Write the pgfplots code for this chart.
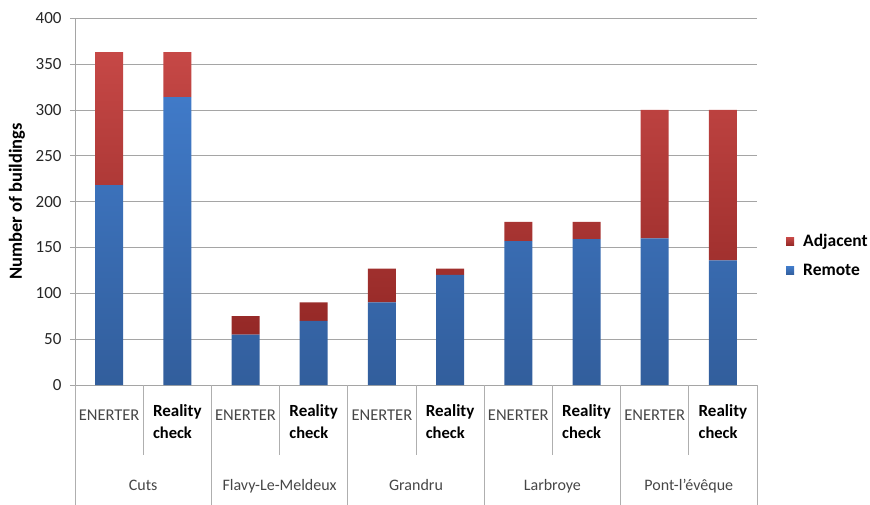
\documentclass[border=0pt]{standalone}
\usepackage{fontspec}
\setmainfont{Carlito}
\usepackage{pgfplots}
\usepackage{pgfplotstable}
\pgfplotsset{compat=1.18}

\definecolor{remTop}{RGB}{64,122,200}
\definecolor{remBot}{RGB}{50,94,156}
\definecolor{adjTop}{RGB}{198,72,70}
\definecolor{adjBot}{RGB}{148,40,38}
\definecolor{gridgray}{RGB}{165,165,165}
\definecolor{sepgray}{RGB}{175,175,175}
\definecolor{labgray}{RGB}{70,70,70}

% Number of buildings per village: ENERTER estimate vs. field reality check
\pgfplotstableread{
x remote adjacent
0 218 145
1 314 49
2 55  20
3 70  20
4 90  37
5 120 7
6 157 21
7 159 19
8 160 140
9 136 164
}\buildings

\begin{document}
\begin{tikzpicture}
\path[use as bounding box] (0,0) rectangle (870bp,-505bp);
\begin{axis}[
  at={(75bp,-385bp)}, anchor=south west,
  scale only axis, width=682bp, height=366.7bp,
  clip=false,
  ymin=0, ymax=400, ytick={0,50,...,400},
  xmin=-0.5, xmax=9.5,
  xtick={0,...,9},
  xticklabels={
    {\color{labgray}\rule{0pt}{15.5bp}ENERTER}, {\bfseries\fontsize{17bp}{22bp}\selectfont Reality\\\bfseries check},
    {\color{labgray}\rule{0pt}{15.5bp}ENERTER}, {\bfseries\fontsize{17bp}{22bp}\selectfont Reality\\\bfseries check},
    {\color{labgray}\rule{0pt}{15.5bp}ENERTER}, {\bfseries\fontsize{17bp}{22bp}\selectfont Reality\\\bfseries check},
    {\color{labgray}\rule{0pt}{15.5bp}ENERTER}, {\bfseries\fontsize{17bp}{22bp}\selectfont Reality\\\bfseries check},
    {\color{labgray}\rule{0pt}{15.5bp}ENERTER}, {\bfseries\fontsize{17bp}{22bp}\selectfont Reality\\\bfseries check}},
  xticklabel style={anchor=north, align=left, yshift=-11bp,
    font=\fontsize{16.5bp}{22bp}\selectfont},
  yticklabel style={font=\fontsize{17bp}{20bp}\selectfont, text=black!85,
    xshift=-5bp},
  /pgf/number format/assume math mode=true,
  axis lines*=left,
  axis line style={gridgray, line width=0.8pt},
  x axis line style={-}, y axis line style={-},
  tick align=outside,
  major tick length=5bp,
  xtick style={draw=none},
  ytick style={gridgray, line width=0.8pt},
  ymajorgrids, grid style={gridgray, line width=0.8pt},
  ybar stacked, bar width=28bp,
  ylabel={Number of buildings},
  every axis y label/.style={at={(axis description cs:0,0.5)},
    xshift=-58bp, anchor=center, rotate=90,
    font=\bfseries\fontsize{18.5bp}{22bp}\selectfont},
  reverse legend,
  legend cell align=left,
  legend style={draw=none, fill=none, at={(1,0.352)}, anchor=west,
    xshift=26bp, row sep=12bp,
    font=\bfseries\fontsize{17.5bp}{20bp}\selectfont},
  legend image code/.code={\fill[#1] (0bp,-4bp) rectangle (8bp,4bp);
    \path (8bp,0) -- (15bp,0);},
]
\addplot[draw=none, top color=remTop, bottom color=remBot]
  table[x=x, y=remote] {\buildings};
\addlegendentry{Remote}
\addplot[draw=none, top color=adjTop, bottom color=adjBot]
  table[x=x, y=adjacent] {\buildings};
\addlegendentry{Adjacent}

% separators between the two columns of a village
\pgfplotsinvokeforeach{0.5,2.5,4.5,6.5,8.5}{
  \draw[sepgray, line width=0.8pt] (axis cs:#1,0) -- ([yshift=-70bp]axis cs:#1,0);
}
% separators between villages
\pgfplotsinvokeforeach{-0.5,1.5,3.5,5.5,7.5,9.5}{
  \draw[sepgray, line width=0.8pt] (axis cs:#1,0) -- ([yshift=-120bp]axis cs:#1,0);
}
% village names
\pgfplotsforeachungrouped \pos/\name in {0.5/Cuts, 2.5/Flavy-Le-Meldeux,
    4.5/Grandru, 6.5/Larbroye, 8.5/Pont-l'évêque}{
  \edef\tmp{\noexpand\node[anchor=base, text=labgray,
    font=\noexpand\fontsize{16bp}{19bp}\noexpand\selectfont]
    at (axis cs:\pos,0) [yshift=-105bp] {\name};}
  \tmp
}
\end{axis}
\end{tikzpicture}
\end{document}
